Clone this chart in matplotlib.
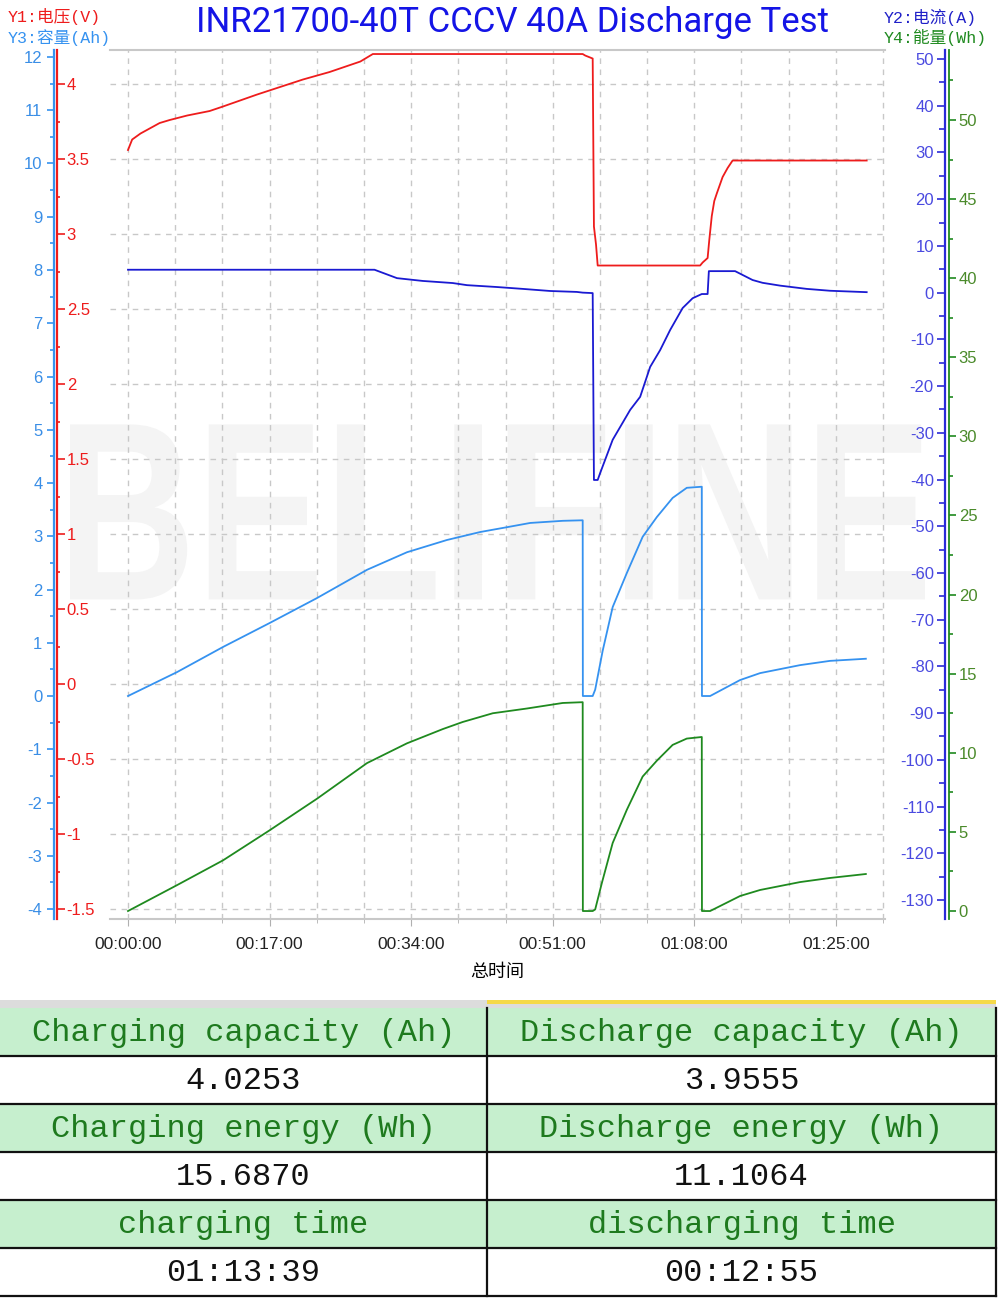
import matplotlib
matplotlib.use("Agg")
import matplotlib.pyplot as plt
from matplotlib.ticker import MultipleLocator, FuncFormatter, FormatStrFormatter
from matplotlib.textpath import TextPath
from matplotlib.patches import PathPatch
from matplotlib.font_manager import FontProperties
from matplotlib.transforms import Affine2D

plt.rcParams['font.family'] = ['Liberation Sans', 'Noto Sans CJK SC', 'DejaVu Sans']
plt.rcParams['axes.unicode_minus'] = False

# ---- data (time in minutes) ----
volt_t = [0, 0.5, 1.5, 3.8, 5.0, 7.1, 9.8, 11.4, 15.5, 21.0, 24.2, 27.9, 29.4, 54.6, 54.9, 55.8,
          55.95, 56.2, 56.4, 68.7, 69.0, 69.6, 69.8, 70.1, 70.4, 70.7, 71.4, 72.0, 72.6, 88.7]
volt_v = [3.56, 3.63, 3.67, 3.74, 3.76, 3.79, 3.82, 3.85, 3.93, 4.03, 4.08, 4.15, 4.20, 4.20, 4.19, 4.17,
          3.05, 2.93, 2.79, 2.79, 2.81, 2.84, 2.96, 3.12, 3.22, 3.27, 3.38, 3.44, 3.49, 3.49]

curr_t = [0, 29.6, 32.3, 35.4, 39.0, 40.7, 44.3, 47.4, 50.7, 53.9, 54.6, 55.8, 55.95, 56.4, 56.7,
          58.2, 60.3, 61.5, 62.7, 63.9, 65.1, 66.6, 67.8, 68.9, 69.6, 69.75, 72.9, 75.0, 76.2,
          78.3, 81.5, 84.3, 88.7]
curr_a = [4.9, 4.9, 3.1, 2.5, 2.05, 1.6, 1.2, 0.8, 0.35, 0.15, 0.0, -0.1, -40.1, -40.1, -38.6,
          -31.5, -25.1, -22.3, -15.9, -12.3, -8.0, -3.3, -1.2, -0.3, -0.3, 4.6, 4.6, 2.7, 2.1,
          1.5, 0.8, 0.4, 0.1]

cap_t = [0, 5.9, 11.4, 17.0, 22.7, 28.7, 33.5, 38.3, 42.3, 45.5, 48.3, 52.2, 54.6, 54.62, 55.8,
         56.1, 57.0, 58.2, 59.9, 61.8, 63.5, 65.4, 67.1, 68.9, 68.92, 69.9, 73.5, 75.9, 80.7,
         84.3, 88.6]
cap_ah = [0, 0.45, 0.92, 1.37, 1.84, 2.37, 2.70, 2.93, 3.08, 3.17, 3.25, 3.29, 3.30, 0, 0,
          0.12, 0.85, 1.67, 2.31, 2.99, 3.36, 3.72, 3.91, 3.93, 0, 0, 0.30, 0.43, 0.58,
          0.66, 0.70]

en_t = [0, 5.9, 11.4, 17.0, 22.7, 28.7, 33.5, 37.8, 40.2, 43.8, 47.9, 52.2, 54.6, 54.62, 55.8,
        56.1, 56.9, 58.2, 59.9, 61.8, 63.5, 65.4, 67.1, 68.9, 68.92, 69.9, 73.5, 75.9, 80.7,
        84.3, 88.6]
en_wh = [0, 1.64, 3.2, 5.1, 7.1, 9.35, 10.6, 11.5, 11.95, 12.5, 12.8, 13.15, 13.2, 0, 0,
         0.1, 1.77, 4.3, 6.4, 8.5, 9.5, 10.5, 10.9, 11.0, 0, 0, 0.95, 1.33, 1.83,
         2.09, 2.34]

# summary table
tbl_headers = [["Charging capacity (Ah)", "Discharge capacity (Ah)"],
               ["Charging energy (Wh)", "Discharge energy (Wh)"],
               ["charging time", "discharging time"]]
tbl_values = [["4.0253", "3.9555"],
              ["15.6870", "11.1064"],
              ["01:13:39", "00:12:55"]]

RED = '#ee1c1c'
BLUE = '#1a1ad2'
LBLUE = '#3592f0'
GREEN = '#1f8a1f'

fig = plt.figure(figsize=(10, 13.06), dpi=100)
ax = fig.add_axes([0.110, 0.2963, 0.775, 0.6654])
ax3 = ax.twinx()
ax2 = ax.twinx()
ax4 = ax.twinx()

# watermark, stretched into a box (figure fractions)
wm = TextPath((0, 0), "BELIFINE", size=100,
              prop=FontProperties(family='Liberation Sans', weight='bold'))
ext = wm.get_extents()
wm_tr = (Affine2D().translate(-ext.x0, -ext.y0)
         .scale(0.855 / ext.width, 0.134 / ext.height)
         .translate(0.07, 0.541) + fig.transFigure)
ax.add_patch(PathPatch(wm, transform=wm_tr, facecolor='#f4f4f4', edgecolor='none',
                       zorder=0, clip_on=False))

ax.plot(volt_t, volt_v, color=RED, lw=1.3)
ax3.plot(cap_t, cap_ah, color=LBLUE, lw=1.3)
ax2.plot(curr_t, curr_a, color=BLUE, lw=1.3)
ax4.plot(en_t, en_wh, color=GREEN, lw=1.3)

ax.set_xlim(-2.16, 90.9)
ax.set_ylim(-1.5667, 4.2267)
ax3.set_ylim(-4.188, 12.131)
ax2.set_ylim(-134.08, 51.93)
ax4.set_ylim(-0.506, 54.42)

# x axis + grid
ax.xaxis.set_major_locator(MultipleLocator(17))
ax.xaxis.set_minor_locator(MultipleLocator(17 / 3))
ax.xaxis.set_major_formatter(FuncFormatter(lambda t, p: "%02d:%02d:00" % (int(t) // 60, int(t) % 60)))
ax.tick_params(axis='x', which='major', length=5, color='#b0b0b0', labelsize=12.5,
               labelcolor='#222222', pad=8)
ax.tick_params(axis='x', which='minor', length=3, color='#b0b0b0')
ax.set_xlabel("总时间", family=['Noto Sans CJK SC'], fontsize=13, labelpad=8)
ax.set_axisbelow(True)
ax.grid(True, which='both', axis='x', color='#c8c8c8', ls=(0, (4, 4)), lw=1)
ax.grid(True, which='major', axis='y', color='#c8c8c8', ls=(0, (4, 4)), lw=1)

for a in (ax, ax2, ax3, ax4):
    for s in a.spines.values():
        s.set_visible(False)
ax.spines['top'].set_visible(True)
ax.spines['bottom'].set_visible(True)
ax.spines['top'].set_color('#c8c8c8')
ax.spines['bottom'].set_color('#c8c8c8')
ax.spines['top'].set_linewidth(1.5)
ax.spines['bottom'].set_linewidth(1.5)

# Y1 voltage: spine at the left, labels to its right
ax.yaxis.tick_right()
ax.spines['right'].set_visible(True)
ax.spines['right'].set_position(('axes', -0.0684))
ax.spines['right'].set_color(RED)
ax.spines['right'].set_linewidth(1.6)
ax.yaxis.set_major_locator(MultipleLocator(0.5))
ax.yaxis.set_minor_locator(MultipleLocator(0.25))
ax.yaxis.set_major_formatter(FormatStrFormatter('%g'))
ax.tick_params(axis='y', which='major', direction='out', length=6, width=1.2, color=RED,
               labelcolor=RED, labelsize=12, pad=1)
ax.tick_params(axis='y', which='minor', direction='out', length=2, width=1.2, color=RED)

# Y3 capacity: outer left
ax3.yaxis.tick_left()
ax3.spines['left'].set_visible(True)
ax3.spines['left'].set_position(('axes', -0.0729))
ax3.spines['left'].set_color(LBLUE)
ax3.spines['left'].set_linewidth(1.6)
ax3.yaxis.set_major_locator(MultipleLocator(1))
ax3.yaxis.set_minor_locator(MultipleLocator(0.5))
ax3.tick_params(axis='y', which='major', direction='out', length=5, width=1.2, color=LBLUE,
                labelcolor='#3a8ee6', labelsize=12, pad=3)
ax3.tick_params(axis='y', which='minor', direction='out', length=3, width=1.2, color=LBLUE)

# Y2 current: right, labels to the left of spine
ax2.yaxis.tick_left()
ax2.spines['left'].set_visible(True)
ax2.spines['left'].set_position(('axes', 1.0774))
ax2.spines['left'].set_color('#2a2ad8')
ax2.spines['left'].set_linewidth(1.6)
ax2.yaxis.set_major_locator(MultipleLocator(10))
ax2.yaxis.set_minor_locator(MultipleLocator(5))
ax2.tick_params(axis='y', which='major', direction='out', length=6, width=1.2, color='#2a2ad8',
                labelcolor='#4a4ae0', labelsize=12, pad=2)
ax2.tick_params(axis='y', which='minor', direction='out', length=4, width=1.2, color='#2a2ad8')

# Y4 energy: outer right
ax4.yaxis.tick_right()
ax4.spines['right'].set_visible(True)
ax4.spines['right'].set_position(('axes', 1.0826))
ax4.spines['right'].set_color(GREEN)
ax4.spines['right'].set_linewidth(1.3)
ax4.yaxis.set_major_locator(MultipleLocator(5))
ax4.yaxis.set_minor_locator(MultipleLocator(2.5))
ax4.tick_params(axis='y', which='major', direction='out', length=5, width=1.2, color=GREEN,
                labelcolor='#4a8a2a', labelsize=12, pad=2)
ax4.tick_params(axis='y', which='minor', direction='out', length=3, width=1.2, color=GREEN)

# titles / axis names
fig.text(0.512, 0.983, "INR21700-40T CCCV 40A Discharge Test", ha='center', va='center',
         fontsize=25, color='#1414e6', family=['Roboto'])
mono = ['Liberation Mono', 'Noto Sans CJK SC']
fig.text(0.008, 0.987, "Y1:电压(V)", ha='left', va='center', fontsize=12, color=RED, family=mono)
fig.text(0.008, 0.971, "Y3:容量(Ah)", ha='left', va='center', fontsize=12, color=LBLUE, family=mono)
fig.text(0.884, 0.987, "Y2:电流(A)", ha='left', va='center', fontsize=12, color='#2020c8', family=mono)
fig.text(0.884, 0.971, "Y4:能量(Wh)", ha='left', va='center', fontsize=12, color=GREEN, family=mono)

# summary table at the bottom
tax = fig.add_axes([0, 0, 1, 1])
tax.set_xlim(0, 1000)
tax.set_ylim(1306, 0)
tax.axis('off')
tax.add_patch(plt.Rectangle((0, 1000), 996, 8, color='#dcdcdc', lw=0))
tax.add_patch(plt.Rectangle((487, 1000), 509, 4, color='#f5d949', lw=0))
row_h = 48
top = 1008
cols = [(0, 487), (487, 996)]
for r in range(3):
    y0 = top + 2 * r * row_h
    for c, (xa, xb) in enumerate(cols):
        tax.add_patch(plt.Rectangle((xa, y0), xb - xa, row_h, facecolor='#c6efce', edgecolor='none'))
        tax.text((xa + xb) / 2, y0 + row_h / 2 + 1, tbl_headers[r][c], ha='center', va='center',
                 fontsize=23, color='#1e7a1e', family='Liberation Mono')
        tax.text((xa + xb) / 2, y0 + 1.5 * row_h + 1, tbl_values[r][c], ha='center', va='center',
                 fontsize=23, color='#111111', family='Liberation Mono')
for k in range(1, 7):
    yy = top + k * row_h
    tax.plot([0, 996], [yy, yy], color='#111111', lw=1.6)
tax.plot([487, 487], [top, top + 6 * row_h], color='#111111', lw=1.6)
tax.plot([996, 996], [top, top + 6 * row_h], color='#111111', lw=1.6)

fig.savefig("out.png", dpi=100)
